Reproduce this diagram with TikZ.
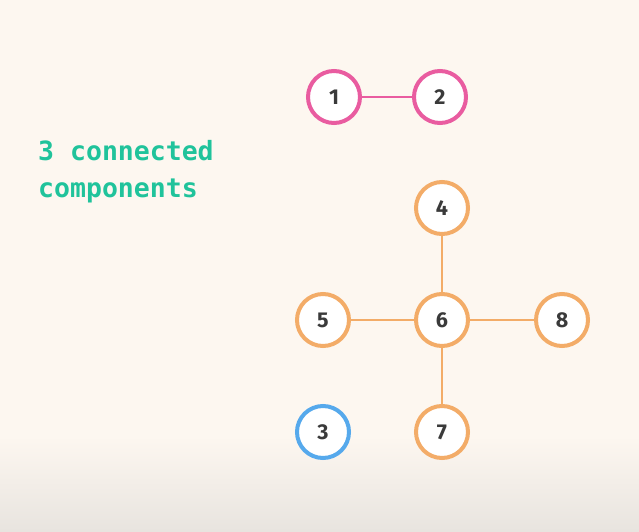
\documentclass[tikz,border=0pt]{standalone}
\usepackage{fontspec}
\setmainfont{Fira Sans}
\newfontfamily\monofont{DejaVu Sans Mono}
\newfontfamily\numfont{Fira Sans Bold}
\definecolor{bgc}{HTML}{FDF7F0}
\definecolor{bgb}{HTML}{E8E4DF}
\definecolor{pinkc}{HTML}{E95CA0}
\definecolor{orangec}{HTML}{F3AC68}
\definecolor{bluec}{HTML}{56A9EC}
\definecolor{tealc}{HTML}{20C39B}
\definecolor{numc}{HTML}{3A3A3A}
\tikzset{
  vert/.style={circle, draw, line width=4pt, fill=white, minimum size=52pt, inner sep=0pt,
    font=\numfont\fontsize{21.5}{21.5}\selectfont, text=numc},
  pinkv/.style={vert, draw=pinkc},
  orangev/.style={vert, draw=orangec},
  bluev/.style={vert, draw=bluec},
  lnk/.style={line width=2.6pt},
}
\begin{document}
\begin{tikzpicture}[x=1pt,y=1pt]
\useasboundingbox (0,0) rectangle (639,531);
\fill[bgc] (0,0) rectangle (639,531);
\shade[top color=bgc, bottom color=bgb] (0,0) rectangle (639,95);
\node[anchor=base west, text=tealc, align=left, inner sep=0pt,
  font=\monofont\bfseries\fontsize{26.5}{37}\selectfont] (lbl) at (38,334) {3 connected\\components};
\node[pinkv] (n1) at (334,434) {1};
\node[pinkv] (n2) at (440,434) {2};
\node[orangev] (n4) at (442,323) {4};
\node[orangev] (n5) at (323,211) {5};
\node[orangev] (n6) at (442,211) {6};
\node[orangev] (n8) at (562,211) {8};
\node[bluev] (n3) at (323,99) {3};
\node[orangev] (n7) at (442,99) {7};
\draw[lnk, pinkc] (n1) -- (n2);
\draw[lnk, orangec] (n4) -- (n6);
\draw[lnk, orangec] (n5) -- (n6);
\draw[lnk, orangec] (n6) -- (n8);
\draw[lnk, orangec] (n6) -- (n7);
\end{tikzpicture}
\end{document}
